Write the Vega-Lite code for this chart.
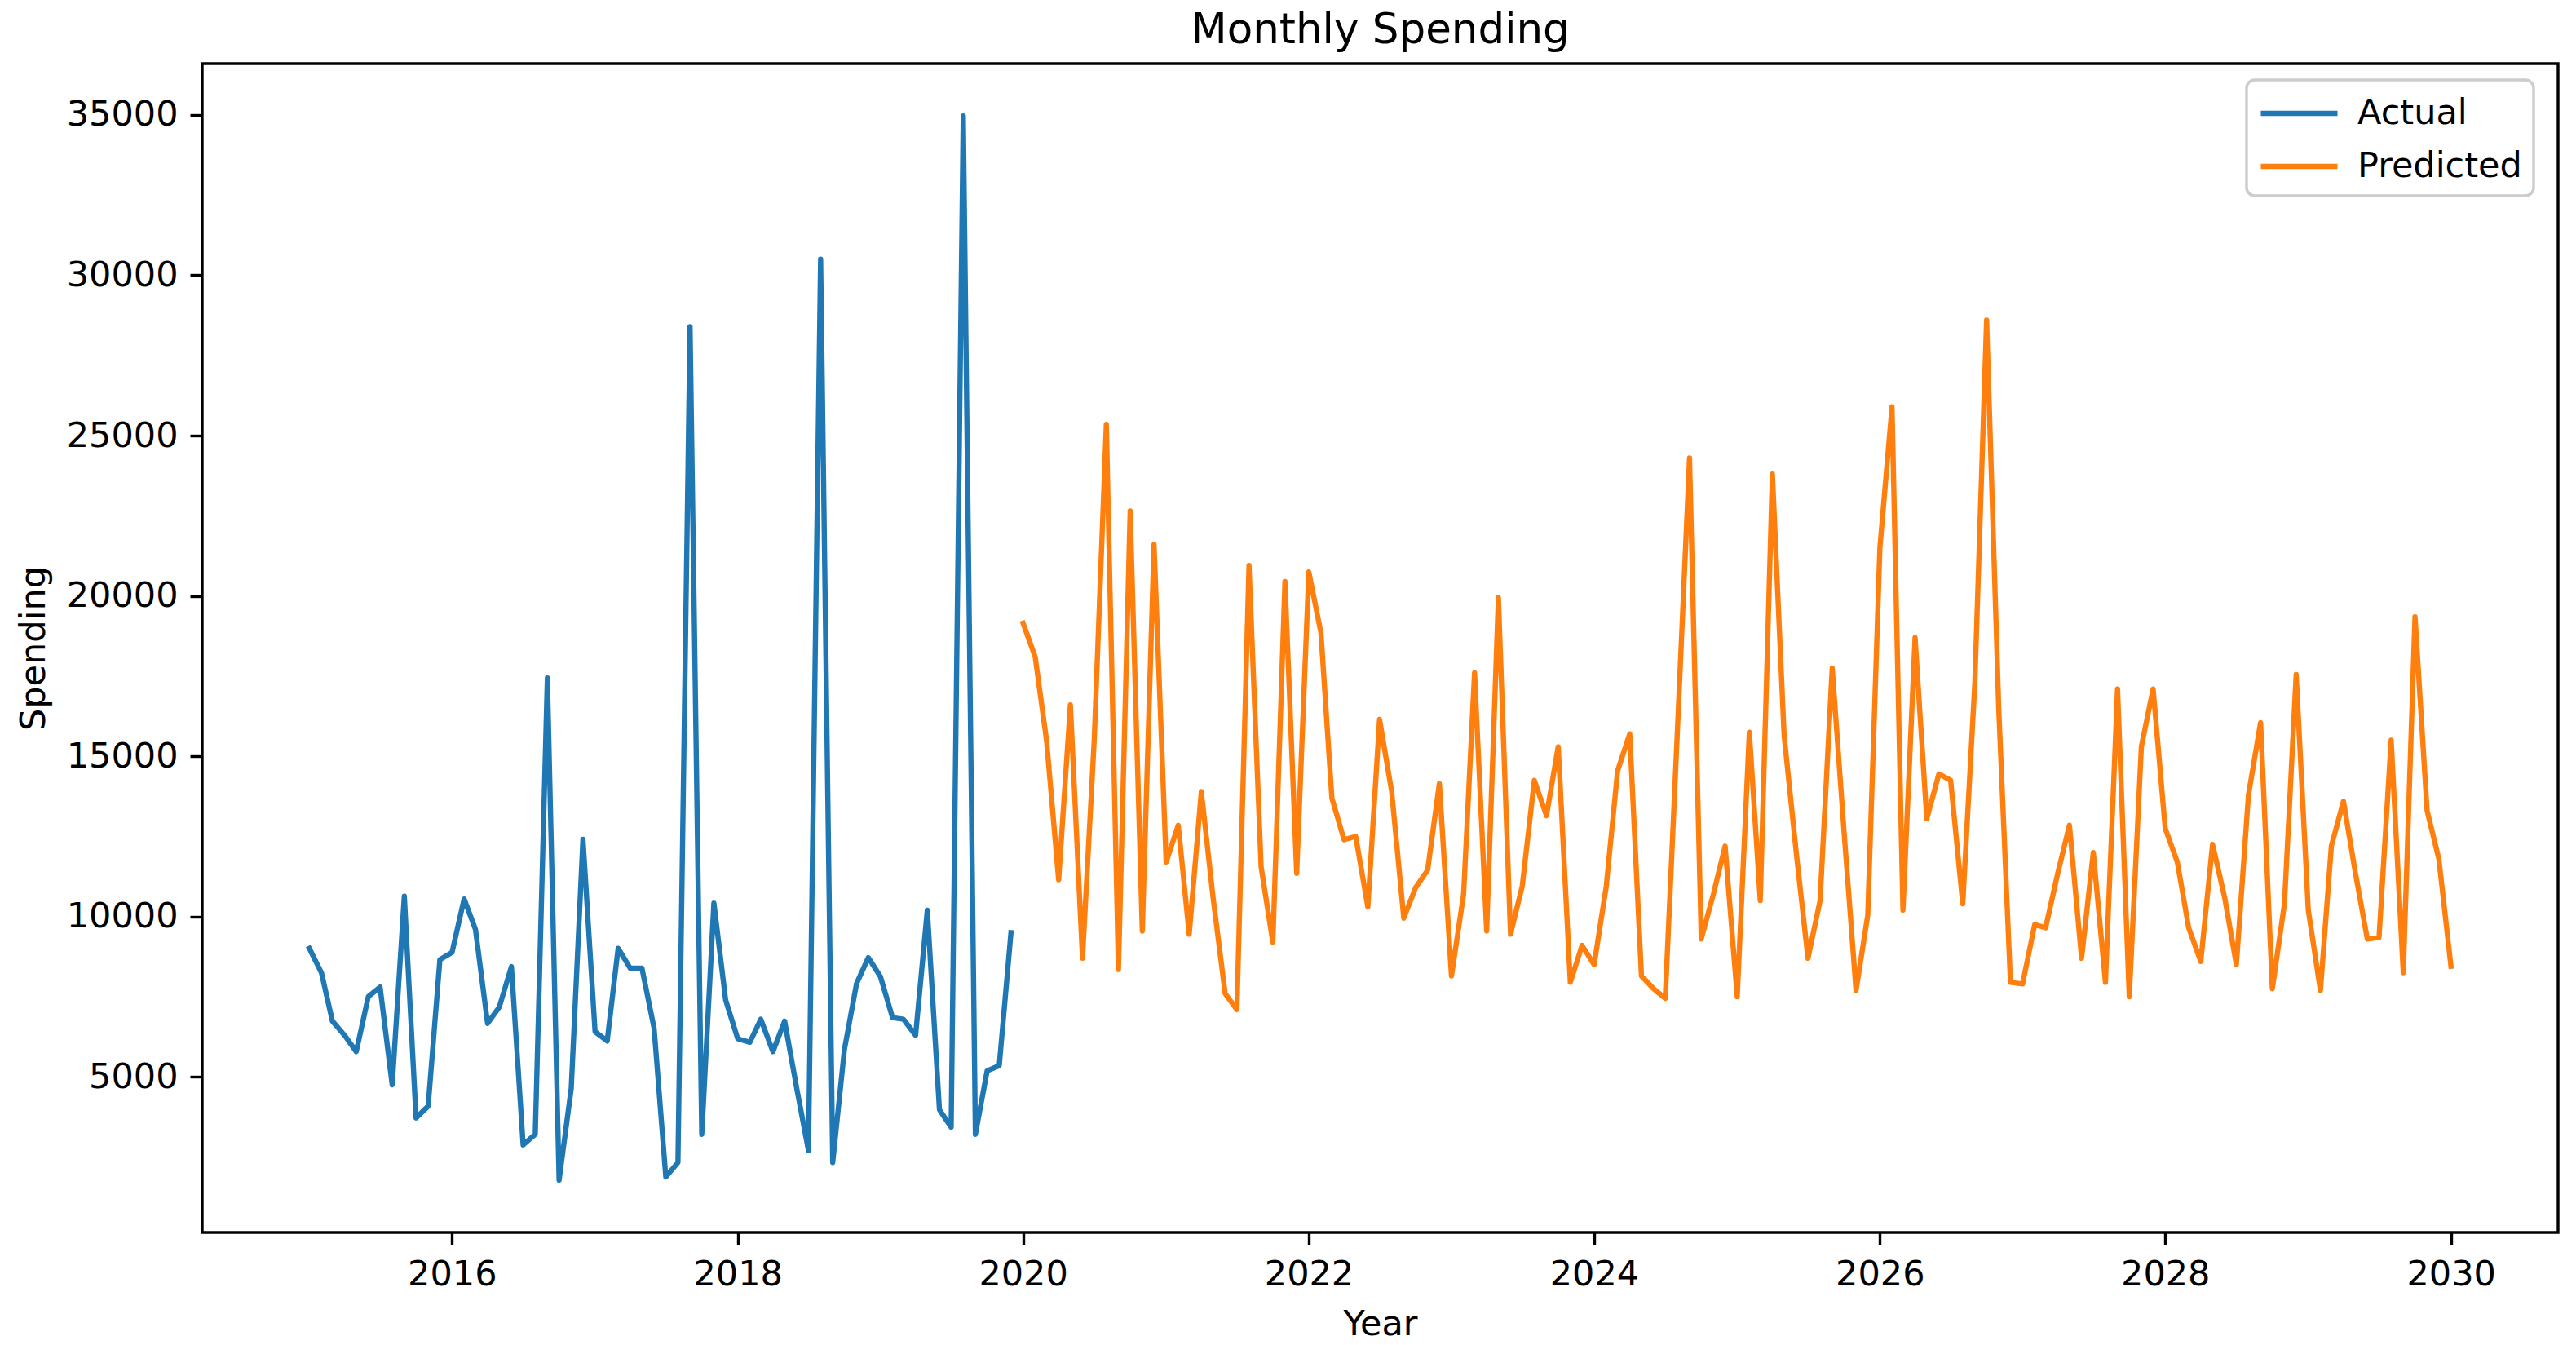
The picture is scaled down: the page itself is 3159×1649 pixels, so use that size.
{
  "$schema": "https://vega.github.io/schema/vega-lite/v6.json",
  "autosize": {"type": "none"},
  "padding": {"left": 248, "top": 78, "right": 22, "bottom": 138},
  "width": 2889,
  "height": 1433,
  "background": "white",
  "title": {"text": "Monthly Spending"},
  "datasets": {
    "actual": [
      {"date": "2015-01-01", "series": "Actual", "value": 9010},
      {"date": "2015-02-01", "series": "Actual", "value": 8250},
      {"date": "2015-03-01", "series": "Actual", "value": 6740},
      {"date": "2015-04-01", "series": "Actual", "value": 6300},
      {"date": "2015-05-01", "series": "Actual", "value": 5790},
      {"date": "2015-06-01", "series": "Actual", "value": 7510},
      {"date": "2015-07-01", "series": "Actual", "value": 7800},
      {"date": "2015-08-01", "series": "Actual", "value": 4750},
      {"date": "2015-09-01", "series": "Actual", "value": 10640},
      {"date": "2015-10-01", "series": "Actual", "value": 3720},
      {"date": "2015-11-01", "series": "Actual", "value": 4090},
      {"date": "2015-12-01", "series": "Actual", "value": 8660},
      {"date": "2016-01-01", "series": "Actual", "value": 8880},
      {"date": "2016-02-01", "series": "Actual", "value": 10550},
      {"date": "2016-03-01", "series": "Actual", "value": 9600},
      {"date": "2016-04-01", "series": "Actual", "value": 6670},
      {"date": "2016-05-01", "series": "Actual", "value": 7180},
      {"date": "2016-06-01", "series": "Actual", "value": 8440},
      {"date": "2016-07-01", "series": "Actual", "value": 2880},
      {"date": "2016-08-01", "series": "Actual", "value": 3210},
      {"date": "2016-09-01", "series": "Actual", "value": 17440},
      {"date": "2016-10-01", "series": "Actual", "value": 1780},
      {"date": "2016-11-01", "series": "Actual", "value": 4640},
      {"date": "2016-12-01", "series": "Actual", "value": 12410},
      {"date": "2017-01-01", "series": "Actual", "value": 6410},
      {"date": "2017-02-01", "series": "Actual", "value": 6120},
      {"date": "2017-03-01", "series": "Actual", "value": 9010},
      {"date": "2017-04-01", "series": "Actual", "value": 8390},
      {"date": "2017-05-01", "series": "Actual", "value": 8390},
      {"date": "2017-06-01", "series": "Actual", "value": 6520},
      {"date": "2017-07-01", "series": "Actual", "value": 1880},
      {"date": "2017-08-01", "series": "Actual", "value": 2330},
      {"date": "2017-09-01", "series": "Actual", "value": 28400},
      {"date": "2017-10-01", "series": "Actual", "value": 3210},
      {"date": "2017-11-01", "series": "Actual", "value": 10420},
      {"date": "2017-12-01", "series": "Actual", "value": 7400},
      {"date": "2018-01-01", "series": "Actual", "value": 6190},
      {"date": "2018-02-01", "series": "Actual", "value": 6080},
      {"date": "2018-03-01", "series": "Actual", "value": 6800},
      {"date": "2018-04-01", "series": "Actual", "value": 5790},
      {"date": "2018-05-01", "series": "Actual", "value": 6740},
      {"date": "2018-06-01", "series": "Actual", "value": 4640},
      {"date": "2018-07-01", "series": "Actual", "value": 2700},
      {"date": "2018-08-01", "series": "Actual", "value": 30500},
      {"date": "2018-09-01", "series": "Actual", "value": 2330},
      {"date": "2018-10-01", "series": "Actual", "value": 5860},
      {"date": "2018-11-01", "series": "Actual", "value": 7910},
      {"date": "2018-12-01", "series": "Actual", "value": 8720},
      {"date": "2019-01-01", "series": "Actual", "value": 8130},
      {"date": "2019-02-01", "series": "Actual", "value": 6850},
      {"date": "2019-03-01", "series": "Actual", "value": 6800},
      {"date": "2019-04-01", "series": "Actual", "value": 6300},
      {"date": "2019-05-01", "series": "Actual", "value": 10200},
      {"date": "2019-06-01", "series": "Actual", "value": 3980},
      {"date": "2019-07-01", "series": "Actual", "value": 3430},
      {"date": "2019-08-01", "series": "Actual", "value": 34970},
      {"date": "2019-09-01", "series": "Actual", "value": 3210},
      {"date": "2019-10-01", "series": "Actual", "value": 5190},
      {"date": "2019-11-01", "series": "Actual", "value": 5350},
      {"date": "2019-12-01", "series": "Actual", "value": 9500}
    ],
    "predicted": [
      {"date": "2020-01-01", "series": "Predicted", "value": 19150},
      {"date": "2020-02-01", "series": "Predicted", "value": 18100},
      {"date": "2020-03-01", "series": "Predicted", "value": 15500},
      {"date": "2020-04-01", "series": "Predicted", "value": 11150},
      {"date": "2020-05-01", "series": "Predicted", "value": 16600},
      {"date": "2020-06-01", "series": "Predicted", "value": 8700},
      {"date": "2020-07-01", "series": "Predicted", "value": 15500},
      {"date": "2020-08-01", "series": "Predicted", "value": 25350},
      {"date": "2020-09-01", "series": "Predicted", "value": 8350},
      {"date": "2020-10-01", "series": "Predicted", "value": 22650},
      {"date": "2020-11-01", "series": "Predicted", "value": 9550},
      {"date": "2020-12-01", "series": "Predicted", "value": 21600},
      {"date": "2021-01-01", "series": "Predicted", "value": 11700},
      {"date": "2021-02-01", "series": "Predicted", "value": 12850},
      {"date": "2021-03-01", "series": "Predicted", "value": 9450},
      {"date": "2021-04-01", "series": "Predicted", "value": 13900},
      {"date": "2021-05-01", "series": "Predicted", "value": 10600},
      {"date": "2021-06-01", "series": "Predicted", "value": 7600},
      {"date": "2021-07-01", "series": "Predicted", "value": 7100},
      {"date": "2021-08-01", "series": "Predicted", "value": 20950},
      {"date": "2021-09-01", "series": "Predicted", "value": 11550},
      {"date": "2021-10-01", "series": "Predicted", "value": 9200},
      {"date": "2021-11-01", "series": "Predicted", "value": 20450},
      {"date": "2021-12-01", "series": "Predicted", "value": 11350},
      {"date": "2022-01-01", "series": "Predicted", "value": 20750},
      {"date": "2022-02-01", "series": "Predicted", "value": 18850},
      {"date": "2022-03-01", "series": "Predicted", "value": 13700},
      {"date": "2022-04-01", "series": "Predicted", "value": 12400},
      {"date": "2022-05-01", "series": "Predicted", "value": 12500},
      {"date": "2022-06-01", "series": "Predicted", "value": 10300},
      {"date": "2022-07-01", "series": "Predicted", "value": 16150},
      {"date": "2022-08-01", "series": "Predicted", "value": 13900},
      {"date": "2022-09-01", "series": "Predicted", "value": 9950},
      {"date": "2022-10-01", "series": "Predicted", "value": 10900},
      {"date": "2022-11-01", "series": "Predicted", "value": 11450},
      {"date": "2022-12-01", "series": "Predicted", "value": 14150},
      {"date": "2023-01-01", "series": "Predicted", "value": 8150},
      {"date": "2023-02-01", "series": "Predicted", "value": 10700},
      {"date": "2023-03-01", "series": "Predicted", "value": 17600},
      {"date": "2023-04-01", "series": "Predicted", "value": 9550},
      {"date": "2023-05-01", "series": "Predicted", "value": 19950},
      {"date": "2023-06-01", "series": "Predicted", "value": 9450},
      {"date": "2023-07-01", "series": "Predicted", "value": 10950},
      {"date": "2023-08-01", "series": "Predicted", "value": 14250},
      {"date": "2023-09-01", "series": "Predicted", "value": 13150},
      {"date": "2023-10-01", "series": "Predicted", "value": 15300},
      {"date": "2023-11-01", "series": "Predicted", "value": 7950},
      {"date": "2023-12-01", "series": "Predicted", "value": 9100},
      {"date": "2024-01-01", "series": "Predicted", "value": 8500},
      {"date": "2024-02-01", "series": "Predicted", "value": 10950},
      {"date": "2024-03-01", "series": "Predicted", "value": 14550},
      {"date": "2024-04-01", "series": "Predicted", "value": 15700},
      {"date": "2024-05-01", "series": "Predicted", "value": 8150},
      {"date": "2024-06-01", "series": "Predicted", "value": 7750},
      {"date": "2024-07-01", "series": "Predicted", "value": 7450},
      {"date": "2024-08-01", "series": "Predicted", "value": 15800},
      {"date": "2024-09-01", "series": "Predicted", "value": 24300},
      {"date": "2024-10-01", "series": "Predicted", "value": 9300},
      {"date": "2024-11-01", "series": "Predicted", "value": 10700},
      {"date": "2024-12-01", "series": "Predicted", "value": 12200},
      {"date": "2025-01-01", "series": "Predicted", "value": 7500},
      {"date": "2025-02-01", "series": "Predicted", "value": 15750},
      {"date": "2025-03-01", "series": "Predicted", "value": 10500},
      {"date": "2025-04-01", "series": "Predicted", "value": 23800},
      {"date": "2025-05-01", "series": "Predicted", "value": 15650},
      {"date": "2025-06-01", "series": "Predicted", "value": 12000},
      {"date": "2025-07-01", "series": "Predicted", "value": 8700},
      {"date": "2025-08-01", "series": "Predicted", "value": 10500},
      {"date": "2025-09-01", "series": "Predicted", "value": 17750},
      {"date": "2025-10-01", "series": "Predicted", "value": 12700},
      {"date": "2025-11-01", "series": "Predicted", "value": 7700},
      {"date": "2025-12-01", "series": "Predicted", "value": 10050},
      {"date": "2026-01-01", "series": "Predicted", "value": 21500},
      {"date": "2026-02-01", "series": "Predicted", "value": 25900},
      {"date": "2026-03-01", "series": "Predicted", "value": 10200},
      {"date": "2026-04-01", "series": "Predicted", "value": 18700},
      {"date": "2026-05-01", "series": "Predicted", "value": 13050},
      {"date": "2026-06-01", "series": "Predicted", "value": 14450},
      {"date": "2026-07-01", "series": "Predicted", "value": 14250},
      {"date": "2026-08-01", "series": "Predicted", "value": 10400},
      {"date": "2026-09-01", "series": "Predicted", "value": 17300},
      {"date": "2026-10-01", "series": "Predicted", "value": 28600},
      {"date": "2026-11-01", "series": "Predicted", "value": 16500},
      {"date": "2026-12-01", "series": "Predicted", "value": 7950},
      {"date": "2027-01-01", "series": "Predicted", "value": 7900},
      {"date": "2027-02-01", "series": "Predicted", "value": 9750},
      {"date": "2027-03-01", "series": "Predicted", "value": 9650},
      {"date": "2027-04-01", "series": "Predicted", "value": 11350},
      {"date": "2027-05-01", "series": "Predicted", "value": 12850},
      {"date": "2027-06-01", "series": "Predicted", "value": 8700},
      {"date": "2027-07-01", "series": "Predicted", "value": 12000},
      {"date": "2027-08-01", "series": "Predicted", "value": 7950},
      {"date": "2027-09-01", "series": "Predicted", "value": 17100},
      {"date": "2027-10-01", "series": "Predicted", "value": 7500},
      {"date": "2027-11-01", "series": "Predicted", "value": 15300},
      {"date": "2027-12-01", "series": "Predicted", "value": 17100},
      {"date": "2028-01-01", "series": "Predicted", "value": 12750},
      {"date": "2028-02-01", "series": "Predicted", "value": 11700},
      {"date": "2028-03-01", "series": "Predicted", "value": 9650},
      {"date": "2028-04-01", "series": "Predicted", "value": 8600},
      {"date": "2028-05-01", "series": "Predicted", "value": 12250},
      {"date": "2028-06-01", "series": "Predicted", "value": 10600},
      {"date": "2028-07-01", "series": "Predicted", "value": 8500},
      {"date": "2028-08-01", "series": "Predicted", "value": 13800},
      {"date": "2028-09-01", "series": "Predicted", "value": 16050},
      {"date": "2028-10-01", "series": "Predicted", "value": 7750},
      {"date": "2028-11-01", "series": "Predicted", "value": 10400},
      {"date": "2028-12-01", "series": "Predicted", "value": 17550},
      {"date": "2029-01-01", "series": "Predicted", "value": 10200},
      {"date": "2029-02-01", "series": "Predicted", "value": 7700},
      {"date": "2029-03-01", "series": "Predicted", "value": 12200},
      {"date": "2029-04-01", "series": "Predicted", "value": 13600},
      {"date": "2029-05-01", "series": "Predicted", "value": 11400},
      {"date": "2029-06-01", "series": "Predicted", "value": 9300},
      {"date": "2029-07-01", "series": "Predicted", "value": 9350},
      {"date": "2029-08-01", "series": "Predicted", "value": 15500},
      {"date": "2029-09-01", "series": "Predicted", "value": 8250},
      {"date": "2029-10-01", "series": "Predicted", "value": 19350},
      {"date": "2029-11-01", "series": "Predicted", "value": 13300},
      {"date": "2029-12-01", "series": "Predicted", "value": 11800},
      {"date": "2030-01-01", "series": "Predicted", "value": 8450}
    ]
  },
  "layer": [
    {
      "data": {"name": "actual"},
      "mark": {"type": "line", "strokeWidth": 6.4, "strokeJoin": "round", "strokeCap": "square", "clip": true},
      "encoding": {
        "x": {"field": "date", "type": "temporal"},
        "y": {"field": "value", "type": "quantitative"},
        "color": {"field": "series", "type": "nominal"}
      }
    },
    {
      "data": {"name": "predicted"},
      "mark": {"type": "line", "strokeWidth": 6.4, "strokeJoin": "round", "strokeCap": "square", "clip": true},
      "encoding": {
        "x": {"field": "date", "type": "temporal"},
        "y": {"field": "value", "type": "quantitative"},
        "color": {"field": "series", "type": "nominal"}
      }
    }
  ],
  "resolve": {"scale": {"x": "shared", "y": "shared", "color": "shared"}},
  "encoding": {
    "x": {
      "field": "date",
      "type": "temporal",
      "title": "Year",
      "scale": {"type": "utc", "domain": [{"year": 2014, "month": 4, "date": 2, "utc": true}, {"year": 2030, "month": 10, "date": 2, "utc": true}]},
      "axis": {
        "values": [
          {"year": 2016, "utc": true}, {"year": 2018, "utc": true}, {"year": 2020, "utc": true},
          {"year": 2022, "utc": true}, {"year": 2024, "utc": true}, {"year": 2026, "utc": true},
          {"year": 2028, "utc": true}, {"year": 2030, "utc": true}
        ],
        "format": "%Y",
        "titlePadding": 18
      }
    },
    "y": {
      "field": "value",
      "type": "quantitative",
      "title": "Spending",
      "scale": {"domain": [150, 36600], "nice": false, "zero": false},
      "axis": {"values": [5000, 10000, 15000, 20000, 25000, 30000, 35000], "format": "d", "titlePadding": 18}
    },
    "color": {
      "field": "series",
      "type": "nominal",
      "scale": {"domain": ["Actual", "Predicted"], "range": ["#1f77b4", "#ff7f0e"]},
      "legend": {
        "orient": "none",
        "legendX": 2507,
        "legendY": 20,
        "title": null,
        "symbolType": "M-1,0H3",
        "symbolSize": 2209,
        "symbolStrokeWidth": 6.4,
        "labelOffset": 68,
        "labelLimit": 600,
        "padding": 14,
        "rowPadding": 16
      }
    }
  },
  "config": {
    "font": "DejaVu Sans",
    "view": {"stroke": "black", "strokeWidth": 3.4, "fill": "white"},
    "title": {"font": "DejaVu Sans", "fontSize": 51.5, "fontWeight": "normal", "color": "black", "anchor": "middle", "offset": 15},
    "axis": {
      "domain": false,
      "grid": false,
      "ticks": true,
      "tickSize": 15,
      "tickWidth": 3.4,
      "tickColor": "black",
      "labelFont": "DejaVu Sans",
      "labelFontSize": 43,
      "labelColor": "black",
      "labelPadding": 15,
      "labelFlush": false,
      "labelOverlap": false,
      "titleFont": "DejaVu Sans",
      "titleFontSize": 43,
      "titleFontWeight": "normal",
      "titleColor": "black"
    },
    "legend": {
      "labelFont": "DejaVu Sans",
      "labelFontSize": 43,
      "labelColor": "black",
      "strokeColor": "#cccccc",
      "strokeWidth": 3.4,
      "fillColor": "white",
      "cornerRadius": 10
    }
  }
}
